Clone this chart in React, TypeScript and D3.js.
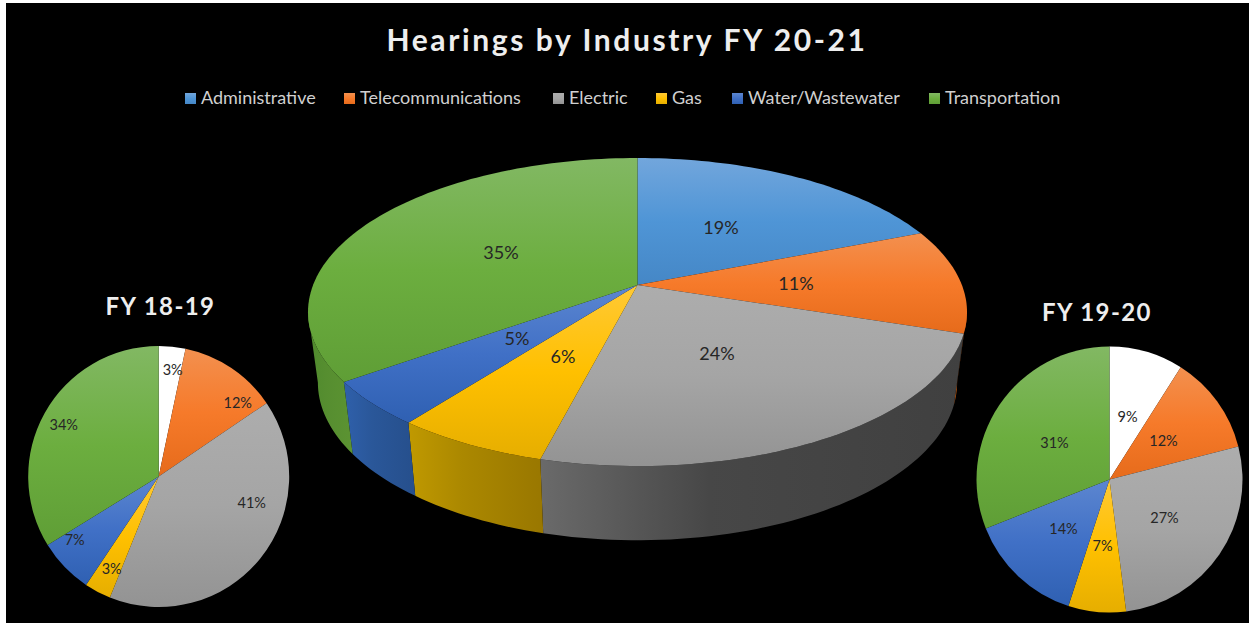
import React from "react";
import * as d3 from "d3";

const categories = ["Administrative", "Telecommunications", "Electric", "Gas", "Water/Wastewater", "Transportation"];
const title = "Hearings by Industry FY 20-21";
const mainValues = [19, 11, 24, 6.4, 4.7, 34.9];
const mainLabels = ["19%", "11%", "24%", "6%", "5%", "35%"];
const leftTitle = "FY 18-19";
const leftValues = [3.3, 12.2, 40.6, 3.3, 6.8, 33.8];
const leftLabels = ["3%", "12%", "41%", "3%", "7%", "34%"];
const rightTitle = "FY 19-20";
const rightValues = [9, 12, 27, 7, 14, 31];
const rightLabels = ["9%", "12%", "27%", "7%", "14%", "31%"];

// top-lit gradient stops per category
const stops = [
  ["#72a6dc", "#4f95d6", "#4587c6"],
  ["#f3904f", "#f67a2a", "#e66b1b"],
  ["#adadad", "#a5a5a5", "#939393"],
  ["#ffc935", "#ffc000", "#e6ae00"],
  ["#5c86d0", "#4070c6", "#2f60b2"],
  ["#82b863", "#6cae3f", "#5f9e36"],
];
const wallStops = [
  ["#2f6ea8", "#2c6399", "#2a5f95"],
  ["#b4520f", "#ad4f0e", "#a84c0e"],
  ["#6a6a6a", "#474747", "#404040"],
  ["#c09900", "#ab8800", "#997700"],
  ["#2f60ab", "#2a5799", "#264f8c"],
  ["#4f8a2d", "#568e30", "#5c9332"],
];
const white = ["#ffffff", "#ffffff", "#ffffff"];

const FONT = "Lato, Carlito, sans-serif";
const W = 1249, H = 623;

// layout
const legendSwatchX = [185, 344, 553, 656, 732, 929];
const mainCx = 637.5, mainAy = 285, mainA = 324.4, mainB = 149.3, mainP = 0.1754;
const leftPie = { cx: 158.7, cy: 476.5, r: 130.5 };
const rightPie = { cx: 1109.5, cy: 479.5, r: 133 };
const mainLabelPos = [[721, 228], [796, 284], [717, 354], [563, 357], [517, 339], [501, 253]];
const leftLabelOff = [[14, -107], [79, -74], [93, 26], [-47, 92], [-84, 63], [-95, -52]];
const rightLabelOff = [[18, -63], [54, -39], [55, 38], [-7, 66], [-46, 49], [-55, -37]];

const pieGen = d3.pie<number>().sort(null).value((d) => d);

// projection of the tilted main disc: angle clockwise from the top
function top(t: number): [number, number] {
  const X = Math.sin(t), Y = Math.cos(t);
  const w = 1 + mainP * Y;
  return [mainCx + (mainA * X) / w, mainAy - (mainB * Y) / w];
}
function low(t: number): [number, number] {
  const [x, y] = top(t);
  return [mainCx + 0.97 * (x - mainCx), y * 1.024 + 63];
}
// silhouette tangents of the disc: only this stretch of the wall faces the viewer
const wallFrom = Math.acos(-mainP);
const wallTo = 2 * Math.PI - wallFrom;

function samples(a: number, b: number): number[] {
  const n = Math.max(4, Math.ceil(((b - a) / (2 * Math.PI)) * 240));
  return d3.range(n + 1).map((i) => a + ((b - a) * i) / n);
}
const poly = d3.line();

function Grad({ id, c }: { id: string; c: string[] }) {
  return (
    <linearGradient id={id} x1="0" y1="0" x2="0" y2="1">
      <stop offset="0" stopColor={c[0]} />
      <stop offset="0.5" stopColor={c[1]} />
      <stop offset="1" stopColor={c[2]} />
    </linearGradient>
  );
}

function FlatPie({ p, values, labels, off, id }: { p: { cx: number; cy: number; r: number }; values: number[]; labels: string[]; off: number[][]; id: string }) {
  const arc = d3.arc<d3.PieArcDatum<number>>().innerRadius(0).outerRadius(p.r);
  return (
    <g>
      <defs>
        {values.map((_, i) => (
          <Grad key={i} id={`${id}${i}`} c={i === 0 ? white : stops[i]} />
        ))}
      </defs>
      <g transform={`translate(${p.cx},${p.cy})`}>
        {pieGen(values).map((s, i) => (
          <path key={i} d={arc(s) || ""} fill={`url(#${id}${i})`} />
        ))}
        {labels.map((l, i) => (
          <text key={l + i} x={off[i][0]} y={off[i][1]} dy="0.35em" textAnchor="middle" fontSize={14.5} fill="#262626" fontFamily={FONT}>{l}</text>
        ))}
      </g>
    </g>
  );
}

export default function App() {
  const slices = pieGen(mainValues);
  return (
    <svg width={W} height={H} viewBox={`0 0 ${W} ${H}`} style={{ position: "absolute", left: 0, top: 0, background: "#fff" }}>
      <defs>
        {slices.map((_, i) => <Grad key={i} id={`m${i}`} c={stops[i]} />)}
        {slices.map((_, i) => (
          <linearGradient key={i} id={`w${i}`} x1="0" y1="0" x2="1" y2="0">
            <stop offset="0" stopColor={wallStops[i][0]} />
            <stop offset="0.4" stopColor={wallStops[i][1]} />
            <stop offset="1" stopColor={wallStops[i][2]} />
          </linearGradient>
        ))}
      </defs>
      <rect x={6} y={3} width={W - 6} height={H - 3} fill="#000" />

      <text x={627} y={51} textAnchor="middle" fontSize={30} fontWeight={700} letterSpacing={2.6} fill="#eeeeee" fontFamily={FONT}>{title}</text>

      {categories.map((c, i) => (
        <g key={c}>
          <rect x={legendSwatchX[i]} y={93} width={11} height={11} fill={`url(#m${i})`} />
          <text x={legendSwatchX[i] + 16} y={104} fontSize={18} fill="#d0d0d0" fontFamily={FONT}>{c}</text>
        </g>
      ))}

      {/* main pie: visible walls first, then the top face over them */}
      {slices.map((s, i) => {
        const a = Math.max(s.startAngle, wallFrom);
        const b = Math.min(s.endAngle, wallTo);
        if (b <= a) return null;
        const ts = samples(a, b);
        const pts = [...ts.map(top), ...ts.slice().reverse().map(low)];
        return <path key={i} d={(poly(pts) || "") + "Z"} fill={`url(#w${i})`} />;
      })}
      {slices.map((s, i) => {
        const ts = samples(s.startAngle, s.endAngle);
        const pts: [number, number][] = [[mainCx, mainAy], ...ts.map(top)];
        return <path key={i} d={(poly(pts) || "") + "Z"} fill={`url(#m${i})`} />;
      })}
      {mainLabels.map((l, i) => (
        <text key={l} x={mainLabelPos[i][0]} y={mainLabelPos[i][1]} dy="0.35em" textAnchor="middle" fontSize={18} fill="#262626" fontFamily={FONT}>{l}</text>
      ))}

      <text x={160.5} y={315} textAnchor="middle" fontSize={24} fontWeight={700} letterSpacing={1.4} fill="#eeeeee" fontFamily={FONT}>{leftTitle}</text>
      <FlatPie p={leftPie} values={leftValues} labels={leftLabels} off={leftLabelOff} id="l" />

      <text x={1097} y={321} textAnchor="middle" fontSize={24} fontWeight={700} letterSpacing={1.4} fill="#eeeeee" fontFamily={FONT}>{rightTitle}</text>
      <FlatPie p={rightPie} values={rightValues} labels={rightLabels} off={rightLabelOff} id="r" />
    </svg>
  );
}
